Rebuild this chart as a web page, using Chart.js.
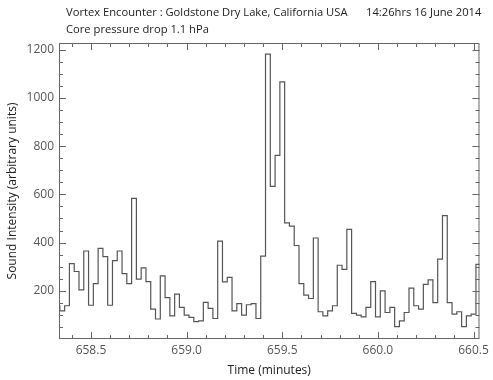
<!DOCTYPE html>
<html>
<head>
<meta charset="utf-8">
<script src="https://cdn.jsdelivr.net/npm/chart.js@4.4.0/dist/chart.umd.min.js"></script>
<style>
  html, body { margin: 0; padding: 0; background: #fff; }
</style>
</head>
<body>
<canvas id="myChart" width="493" height="380"></canvas>
<script>
// sound intensity, one value per 1.5 s bin (0.025 min)
const startTime = 658.3125;   // start of first bin (minutes)
const binWidth = 0.025;
const intensity = [
    138, 117, 138, 313, 280, 204, 365, 140, 230, 376,
    342, 140, 325, 365, 271, 230, 583, 248, 295, 238,
    124, 83, 262, 172, 96, 186, 131, 99, 90, 72,
    75, 152, 127, 85, 406, 237, 256, 117, 147, 99,
    142, 147, 85, 344, 1182, 633, 762, 1067, 482, 468,
    388, 230, 182, 168, 419, 113, 96, 117, 138, 306,
    289, 455, 106, 99, 92, 131, 238, 92, 200, 110,
    131, 51, 75, 110, 211, 138, 124, 227, 245, 151,
    331, 512, 151, 103, 113, 51, 96, 103, 310
];
const xTickLabels = [658.5, 659.0, 659.5, 660.0, 660.5];
const yTickLabels = [200, 400, 600, 800, 1000, 1200];

const titleLine1 = 'Vortex Encounter : Goldstone Dry Lake, California USA';
const titleDate = '14:26hrs 16 June 2014';
const titleLine2 = 'Core pressure drop 1.1 hPa';

// step points: each value holds from its bin start to the next one
const points = intensity.map((v, i) => ({ x: startTime + i * binWidth, y: v }));
points.push({ x: startTime + intensity.length * binWidth, y: intensity[intensity.length - 1] });

const FONT = '"Open Sans", "DejaVu Sans", sans-serif';

// header text + IDL style frame with inward ticks on all four sides
const frameTicks = {
    id: 'frameTicks',
    beforeDraw(chart) {
        const ctx = chart.ctx;
        ctx.save();
        ctx.fillStyle = '#fff';
        ctx.fillRect(0, 0, chart.width, chart.height);
        ctx.fillStyle = '#222';
        ctx.font = '11.2px ' + FONT;
        ctx.textBaseline = 'alphabetic';
        ctx.fillText(titleLine1, 66, 16);
        ctx.fillText(titleDate, 366, 16);
        ctx.fillText(titleLine2, 66, 33);
        ctx.restore();
    },
    afterDatasetsDraw(chart) {
        const { ctx, chartArea: a, scales: { x, y } } = chart;
        ctx.save();
        ctx.strokeStyle = '#666';
        ctx.lineWidth = 1;
        ctx.strokeRect(a.left + 0.5, a.top + 0.5, a.width - 1, a.height - 1);
        ctx.beginPath();
        // x ticks every 0.1 min, major every 0.5
        for (let k = 6584; k <= 6605; k++) {
            const px = Math.round(x.getPixelForValue(k / 10)) + 0.5;
            const len = (k % 5 === 0) ? 7 : 4;
            ctx.moveTo(px, a.bottom); ctx.lineTo(px, a.bottom - len);
            ctx.moveTo(px, a.top); ctx.lineTo(px, a.top + len);
        }
        // y ticks every 50, major every 200
        for (let v = 50; v <= 1200; v += 50) {
            const py = Math.round(y.getPixelForValue(v)) + 0.5;
            const len = (v % 200 === 0) ? 7 : 4;
            ctx.moveTo(a.left, py); ctx.lineTo(a.left + len, py);
            ctx.moveTo(a.right, py); ctx.lineTo(a.right - len, py);
        }
        ctx.stroke();
        ctx.restore();
    }
};

const config = {
    type: 'line',
    data: {
        datasets: [{
            data: points,
            stepped: true,
            borderColor: '#555',
            borderWidth: 1.2,
            pointRadius: 0,
            fill: false,
            clip: 0
        }]
    },
    options: {
        responsive: false,
        animation: false,
        devicePixelRatio: 1,
        layout: { padding: { top: 43, right: 10, left: 0, bottom: 0 } },
        plugins: { legend: { display: false }, tooltip: { enabled: false } },
        scales: {
            x: {
                type: 'linear',
                min: 658.333,
                max: 660.531,
                grid: { display: false, drawTicks: false },
                border: { display: false },
                afterBuildTicks: (axis) => { axis.ticks = xTickLabels.map(v => ({ value: v })); },
                afterFit: (scale) => { scale.height = 41; },
                ticks: {
                    padding: 4,
                    color: '#555',
                    font: { family: FONT, size: 12 },
                    maxRotation: 0,
                    autoSkip: false,
                    callback: (v) => v.toFixed(1)
                },
                title: {
                    display: true,
                    text: 'Time (minutes)',
                    color: '#222',
                    font: { family: FONT, size: 12 },
                    padding: { top: 2, bottom: 2 }
                }
            },
            y: {
                min: 0,
                max: 1228,
                grid: { display: false, drawTicks: false },
                border: { display: false },
                afterBuildTicks: (axis) => { axis.ticks = yTickLabels.map(v => ({ value: v })); },
                afterFit: (scale) => { scale.width = 59; },
                ticks: {
                    padding: 5,
                    color: '#555',
                    font: { family: FONT, size: 12 },
                    callback: (v) => String(v)
                },
                title: {
                    display: true,
                    text: 'Sound Intensity (arbitrary units)',
                    color: '#222',
                    font: { family: FONT, size: 12 },
                    padding: { top: 5, bottom: 0 }
                }
            }
        }
    },
    plugins: [frameTicks]
};

const myChart = new Chart(document.getElementById('myChart'), config);
</script>
</body>
</html>
